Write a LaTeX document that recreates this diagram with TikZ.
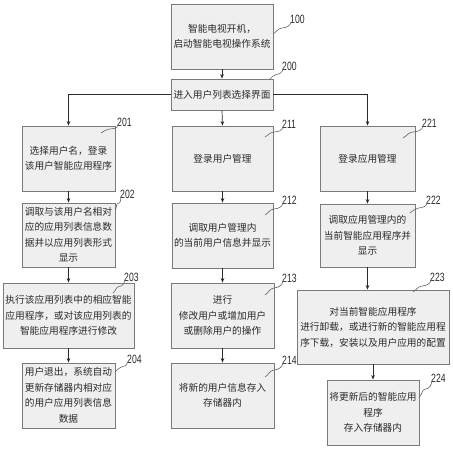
\documentclass[tikz,border=0pt]{standalone}
\usepackage{fontspec}
\newfontfamily\cjk{Noto Sans CJK SC}
\newfontfamily\numfont[FakeStretch=0.72]{Liberation Sans}
\usetikzlibrary{arrows.meta,shadows}
\definecolor{boxfill}{HTML}{EFEFEF}
\definecolor{boxline}{HTML}{7A7A7A}
\definecolor{ink}{HTML}{2A2A2A}
\tikzset{
  x=1pt, y=-1pt,
  stepbox/.style={draw=boxline, line width=0.8pt, fill=boxfill, inner sep=0pt,
    align=center, text=ink, font=\cjk\fontsize{9.7}{15.5}\selectfont,
    drop shadow={shadow xshift=1.2pt, shadow yshift=-1.2pt, fill=black!50, opacity=0.55}},
  flow/.style={draw=ink, line width=0.7pt, -{Stealth[length=4.5pt,width=3.6pt]}},
  leader/.style={draw=black!60, line width=0.6pt},
  numlab/.style={text=ink, inner sep=0pt, font=\numfont\fontsize{12}{12}\selectfont},
}
\newcommand{\boxat}[6]{% name, x1, y1, x2, y2, text
  \node[stepbox, minimum width={#4-#2}, minimum height={#5-#3}] (#1) at ({(#2+#4)/2},{(#3+#5)/2}) {#6};}
\newcommand{\leadat}[6]{% name, sx, sy, ex, ey, label
  \coordinate (s#1) at (#2,#3);
  \coordinate (e#1) at (#4,#5);
  \node[numlab, anchor=south west] (l#1) at ($(e#1)+(-1,2)$) {#6};
  \draw[leader] (s#1) to[out=30,in=185] ($(s#1)!0.5!(e#1)$) to[out=5,in=-100] (e#1);}
\usetikzlibrary{calc}
\begin{document}
\begin{tikzpicture}
\useasboundingbox (0,0) rectangle (453,450);
\boxat{n100}{171}{4}{273}{69}{智能电视开机，\\启动智能电视操作系统}
\boxat{n200}{171}{79}{273}{110}{进入用户列表选择界面}
\boxat{n201}{22}{126}{115}{191}{选择用户名，登录\\该用户智能应用程序}
\boxat{n202}{22}{203}{115}{267}{调取与该用户名相对\\应的应用列表信息数\\据并以应用列表形式\\显示}
\boxat{n203}{3}{283}{134}{348}{执行该应用列表中的相应智能\\应用程序，或对该应用列表的\\智能应用程序进行修改}
\boxat{n204}{22}{363}{115}{428}{用户退出，系统自动\\更新存储器内相对应\\的用户应用列表信息\\数据}
\boxat{n211}{172}{126}{273}{191}{登录用户管理}
\boxat{n212}{172}{203}{273}{268}{调取用户管理内\\的当前用户信息并显示}
\boxat{n213}{171}{283}{274}{348}{进行\\修改用户或增加用户\\或删除用户的操作}
\boxat{n214}{171}{363}{274}{428}{将新的用户信息存入\\存储器内}
\boxat{n221}{320}{126}{415}{191}{登录应用管理}
\boxat{n222}{320}{204}{415}{267}{调取应用管理内的\\当前智能应用程序并\\显示}
\boxat{n223}{297}{290}{449}{364}{对当前智能应用程序\\进行卸载，或进行新的智能应用程\\序下载，安装以及用户应用的配置}
\boxat{n224}{327}{380}{419}{445}{将更新后的智能应用\\程序\\存入存储器内}

\draw[flow] (n100.south) -- (n200.north);
\draw[flow] (n200.west) -| (n201.north);
\draw[flow] (n200.south) -- (n211.north);
\draw[flow] (n200.east) -| (n221.north);
\draw[flow] (n201.south) -- (n202.north);
\draw[flow] (n202.south) -- (n203.north);
\draw[flow] (n203.south) -- (n204.north);
\draw[flow] (n211.south) -- (n212.north);
\draw[flow] (n212.south) -- (n213.north);
\draw[flow] (n213.south) -- (n214.north);
\draw[flow] (n221.south) -- (n222.north);
\draw[flow] (n222.south) -- (n222.south |- n223.north);
\draw[flow] (n223.south) -- (n224.north);

\leadat{100}{273}{34}{291}{22}{100}
\leadat{200}{269}{80}{283}{69}{200}
\leadat{201}{101}{133}{118}{125}{201}
\leadat{202}{115}{210}{121}{197}{202}
\leadat{203}{113}{293}{125}{280}{203}
\leadat{204}{115}{372}{128}{362}{204}
\leadat{211}{265}{137}{283}{127}{211}
\leadat{212}{265}{215}{283}{203}{212}
\leadat{213}{265}{295}{283}{281}{213}
\leadat{214}{265}{377}{283}{363}{214}
\leadat{221}{403}{138}{423}{126}{221}
\leadat{222}{410}{213}{427}{203}{222}
\leadat{223}{413}{292}{431}{280}{223}
\leadat{224}{419}{397}{432}{381}{224}
\end{tikzpicture}
\end{document}
